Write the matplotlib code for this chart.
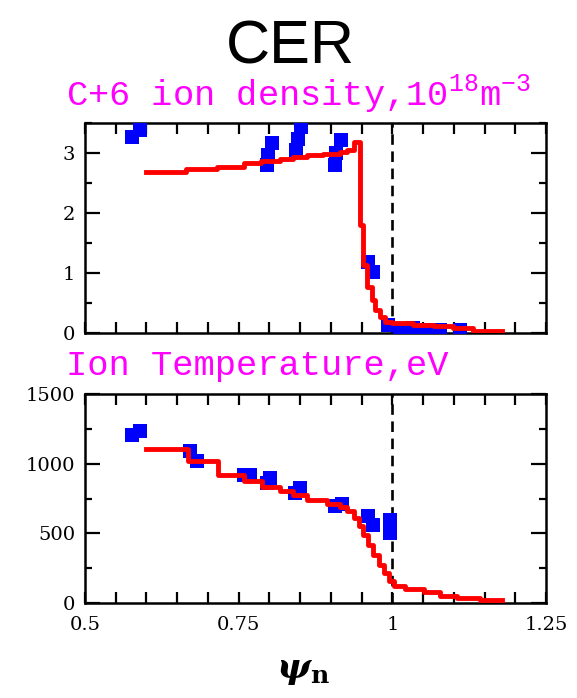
import matplotlib
matplotlib.use('Agg')
import matplotlib.pyplot as plt
from matplotlib.ticker import MultipleLocator

plt.rcParams['mathtext.fontset'] = 'custom'
plt.rcParams['mathtext.rm'] = 'Liberation Mono'

# C+6 density, measured points
nc_psi = [0.576, 0.589, 0.796, 0.798, 0.804, 0.843, 0.847, 0.852, 0.907, 0.909, 0.916,
          0.961, 0.969, 0.993, 1.012, 1.034, 1.056, 1.078, 1.110]
nc_val = [3.27, 3.38, 2.80, 2.97, 3.16, 3.05, 3.24, 3.44, 2.80, 3.00, 3.22,
          1.19, 1.02, 0.13, 0.05, 0.08, 0.05, 0.05, 0.05]

# C+6 density, fitted profile
nc_fit_psi = [0.600, 0.665, 0.714, 0.758, 0.787, 0.817, 0.839, 0.861, 0.888, 0.915, 0.926,
              0.937, 0.948, 0.953, 0.959, 0.967, 0.972, 0.980, 0.988, 0.999, 1.034,
              1.067, 1.099, 1.132, 1.178]
nc_fit_val = [2.69, 2.73, 2.77, 2.84, 2.86, 2.90, 2.93, 2.96, 2.98, 3.02, 3.05,
              3.19, 1.80, 1.13, 0.77, 0.55, 0.38, 0.27, 0.19, 0.16, 0.14,
              0.12, 0.08, 0.04, 0.03]

# ion temperature, measured points
ti_psi = [0.576, 0.589, 0.671, 0.682, 0.758, 0.768, 0.796, 0.801, 0.842, 0.850,
          0.907, 0.918, 0.961, 0.969, 0.996, 0.996]
ti_val = [1208, 1232, 1088, 1017, 921, 921, 861, 897, 789, 825,
          698, 713, 622, 562, 598, 502]

# ion temperature, fitted profile
ti_fit_psi = [0.600, 0.668, 0.717, 0.758, 0.788, 0.818, 0.839, 0.861, 0.894, 0.915,
              0.926, 0.937, 0.945, 0.953, 0.961, 0.969, 0.978, 0.986, 0.994, 1.002,
              1.021, 1.051, 1.078, 1.105, 1.143, 1.178]
ti_fit_val = [1105, 1017, 921, 873, 832, 801, 777, 737, 713, 689,
              658, 610, 550, 490, 419, 347, 275, 215, 155, 120,
              100, 77, 53, 36, 24, 19]

separatrix = 1.0

fig = plt.figure(figsize=(5.77, 6.98), dpi=100)
ax1 = fig.add_axes([0.1473, 0.5229, 0.799, 0.3009])
ax2 = fig.add_axes([0.1473, 0.1361, 0.799, 0.2994])


def style_axis(ax, ymax, ymajor, yminor):
    ax.set_xlim(0.5, 1.25)
    ax.set_ylim(0, ymax)
    ax.xaxis.set_major_locator(MultipleLocator(0.25))
    ax.xaxis.set_minor_locator(MultipleLocator(0.05))
    ax.yaxis.set_major_locator(MultipleLocator(ymajor))
    ax.yaxis.set_minor_locator(MultipleLocator(yminor))
    ax.tick_params(which='both', direction='in', top=True, right=True, width=1.6,
                   labelsize=14, pad=7)
    ax.tick_params(axis='x', which='both', length=8)
    ax.tick_params(axis='y', which='major', length=11)
    ax.tick_params(axis='y', which='minor', length=5)
    for s in ax.spines.values():
        s.set_linewidth(1.8)
    for lab in ax.get_xticklabels() + ax.get_yticklabels():
        lab.set_fontfamily('DejaVu Serif')
    ax.axvline(separatrix, color='black', lw=1.9, ls=(0, (4, 2.5)), zorder=2)


ax1.plot(nc_psi, nc_val, 's', color='#0000ff', ms=9.5, mew=0, zorder=3)
ax1.plot(nc_fit_psi, nc_fit_val, color='#ff0000', lw=3.5, drawstyle='steps-post', zorder=4)
style_axis(ax1, 3.5, 1, 0.5)
ax1.set_xticklabels([])

ax2.plot(ti_psi, ti_val, 's', color='#0000ff', ms=9.5, mew=0, zorder=3)
ax2.plot(ti_fit_psi, ti_fit_val, color='#ff0000', lw=3.5, drawstyle='steps-post', zorder=4)
style_axis(ax2, 1500, 500, 250)
ax2.set_xticks([0.5, 0.75, 1.0, 1.25])
ax2.set_xticklabels(['0.5', '0.75', '1', '1.25'], fontfamily='DejaVu Serif')
ax2.tick_params(axis='x', pad=9)

fig.text(0.503, 0.972, 'CER', ha='center', va='top', fontsize=44, family='Liberation Sans')
fig.text(0.114, 0.849, r'C+6 ion density,10$^{18}$m$^{-3}$', color='#ff00ff',
         fontsize=25.5, family='Liberation Mono', ha='left', va='baseline')
fig.text(0.114, 0.463, 'Ion Temperature,eV', color='#ff00ff',
         fontsize=25.5, family='Liberation Mono', ha='left', va='baseline')
fig.text(0.525, 0.016, r'$\boldsymbol{\psi}_{\mathbf{n}}$', fontsize=26,
         math_fontfamily='dejavuserif', ha='center', va='bottom')

fig.savefig('out.png', dpi=100)
